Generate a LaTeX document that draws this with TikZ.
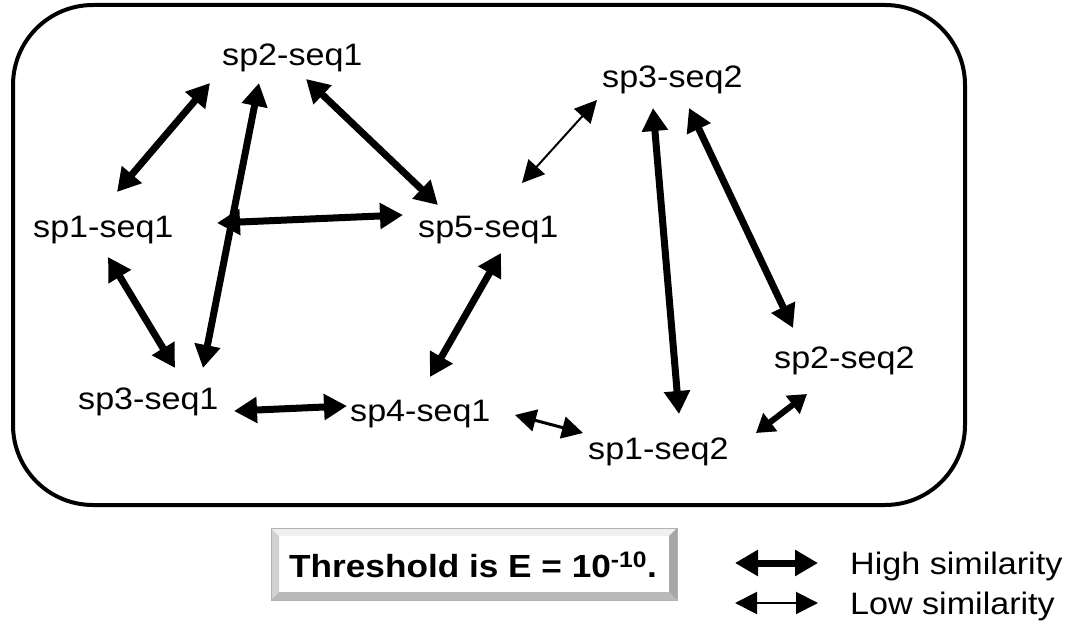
\documentclass[tikz,border=0pt]{standalone}
\usepackage{fontspec}
\setmainfont{Liberation Sans}
\newfontfamily\lab[FakeStretch=1.1]{Liberation Sans}
\usetikzlibrary{arrows.meta}
\tikzset{
  lbl/.style={anchor=base west, inner sep=0pt, font=\lab\fontsize{31}{35}\selectfont},
  hi/.style={line width=7pt, {Triangle[length=23pt,width=25pt]}-{Triangle[length=23pt,width=25pt]}},
  mid/.style={line width=3pt, {Triangle[length=21pt,width=22pt]}-{Triangle[length=21pt,width=22pt]}},
  sm/.style={line width=6pt, {Triangle[length=18pt,width=22pt]}-{Triangle[length=18pt,width=22pt]}},
  lo/.style={line width=2pt, {Triangle[length=22pt,width=22pt]}-{Triangle[length=22pt,width=22pt]}},
}
\begin{document}
\begin{tikzpicture}[x=1pt,y=-1pt]
\useasboundingbox (0,0) rectangle (1071,631);
% frame
\draw[line width=4pt, rounded corners=80pt] (13,5) rectangle (965,505);
% labels
\node[lbl] (s21) at (222,66) {sp2-seq1};
\node[lbl] (s32) at (602,88) {sp3-seq2};
\node[lbl] (s11) at (33,237) {sp1-seq1};
\node[lbl] (s51) at (418,237) {sp5-seq1};
\node[lbl] (s22) at (774,368) {sp2-seq2};
\node[lbl] (s31) at (78,409) {sp3-seq1};
\node[lbl] (s41) at (350,421) {sp4-seq1};
\node[lbl] (s12) at (588,459) {sp1-seq2};
% arrow ends
\coordinate (a1) at (210,83);  \coordinate (b1) at (117,192);
\coordinate (a2) at (259,83);  \coordinate (b2) at (203,368);
\coordinate (a3) at (306,79);  \coordinate (b3) at (438,205);
\coordinate (a4) at (217,223); \coordinate (b4) at (403,215);
\coordinate (a5) at (108,257); \coordinate (b5) at (175,368);
\coordinate (a6) at (501,253); \coordinate (b6) at (430,377);
\coordinate (a7) at (234,411); \coordinate (b7) at (347,406);
\coordinate (a8) at (522,183); \coordinate (b8) at (597,100);
\coordinate (a9) at (653,108); \coordinate (b9) at (679,414);
\coordinate (a10) at (689,108); \coordinate (b10) at (793,328);
\coordinate (a11) at (515,415); \coordinate (b11) at (583,433);
\coordinate (a12) at (756,433); \coordinate (b12) at (807,394);
\draw[hi] (a1) -- (b1);
\draw[hi] (a2) -- (b2);
\draw[hi] (a3) -- (b3);
\draw[hi] (a4) -- (b4);
\draw[hi] (a5) -- (b5);
\draw[hi] (a6) -- (b6);
\draw[hi] (a7) -- (b7);
\draw[lo] (a8) -- (b8);
\draw[hi] (a9) -- (b9);
\draw[hi] (a10) -- (b10);
\draw[mid] (a11) -- (b11);
\draw[sm] (a12) -- (b12);
% threshold box
\fill[white] (271,528) rectangle (677,600);
\fill[gray!12] (271,528) -- (677,528) -- (669,536) -- (279,536) -- cycle;
\fill[gray!35] (271,528) -- (279,536) -- (279,592) -- (271,600) -- cycle;
\fill[gray!55] (271,600) -- (279,592) -- (669,592) -- (677,600) -- cycle;
\fill[gray!70] (677,528) -- (677,600) -- (669,592) -- (669,536) -- cycle;
\draw[gray!60, line width=0.8pt] (271,528) rectangle (677,600);
\node[anchor=base, inner sep=0pt, font=\lab\bfseries\fontsize{32}{36}\selectfont] (thr) at (473,577) {Threshold is E = 10\textsuperscript{-10}.};
% legend
\coordinate (lh1) at (735,563); \coordinate (lh2) at (818,563);
\coordinate (ll1) at (735,603); \coordinate (ll2) at (818,603);
\draw[hi] (lh1) -- (lh2);
\draw[lo] (ll1) -- (ll2);
\node[lbl] (high) at (850,574) {High similarity};
\node[lbl] (low) at (850,614) {Low similarity};
\end{tikzpicture}
\end{document}
